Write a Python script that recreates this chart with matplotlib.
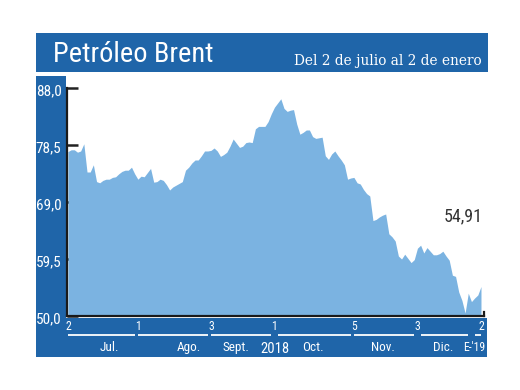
import matplotlib
matplotlib.use("Agg")
import matplotlib.pyplot as plt
import matplotlib.transforms as mtransforms
from matplotlib.patches import Rectangle
from matplotlib import font_manager as fm
import pandas as pd
import numpy as np

# ---------------- data ----------------
title = "Petróleo Brent"
subtitle = "Del 2 de julio al 2 de enero"
start_date = "2018-07-02"
end_date = "2019-01-02"
holidays = ["2018-12-25", "2019-01-01"]

prices = [
    77.4, 77.7, 77.7, 77.3, 77.5, 78.7, 74.0, 74.0, 75.2, 72.4,
    72.2, 72.6, 72.8, 72.8, 73.1, 73.2, 73.7, 74.1, 74.3, 74.3,
    74.8, 73.7, 72.8, 73.3, 73.2, 73.9, 74.6, 72.3, 72.4, 72.8,
    72.6, 71.9, 71.0, 71.5, 71.8, 72.1, 72.4, 74.3, 74.8, 75.5,
    76.0, 76.0, 76.7, 77.5, 77.5, 77.6, 78.0, 77.5, 76.6, 76.9,
    77.3, 78.3, 79.5, 78.8, 78.1, 78.3, 78.9, 79.0, 78.9, 81.2,
    81.6, 81.6, 81.6, 82.4, 83.7, 84.8, 85.5, 86.2, 84.6, 84.1,
    84.3, 84.4, 82.0, 80.3, 80.6, 81.0, 81.0, 79.9, 79.6, 79.7,
    79.8, 76.7, 76.1, 77.0, 77.5, 76.7, 76.0, 75.2, 72.8, 73.0,
    73.1, 72.2, 72.0, 71.1, 70.4, 70.0, 65.9, 66.1, 66.5, 66.8,
    67.0, 63.7, 63.2, 62.5, 60.0, 59.5, 60.3, 59.6, 58.9, 59.4,
    61.3, 61.8, 60.5, 61.4, 60.8, 60.2, 60.2, 60.4, 60.8, 60.0,
    59.3, 56.8, 56.6, 54.0, 52.6, 50.5, 53.8, 52.4, 53.0, 53.5,
    54.91,
]
last_label = "54,91"

y_ticks = [50.0, 59.5, 69.0, 78.5, 88.0]
y_tick_labels = ["50,0", "59,5", "69,0", "78,5", "88,0"]

x_tick_dates = ["2018-07-02", "2018-08-01", "2018-09-03", "2018-10-01",
                "2018-11-05", "2018-12-03", "2019-01-02"]
x_tick_labels = ["2", "1", "3", "1", "5", "3", "2"]

month_labels = ["Jul.", "Ago.", "Sept.", "2018", "Oct.", "Nov.", "Dic.", "E-'19"]
month_label_dates = ["2018-07-19", "2018-08-23", "2018-09-13", "2018-10-01",
                     "2018-10-17", "2018-11-16", "2018-12-13", "2018-12-28"]

seg_start = ["2018-07-02", "2018-08-01", "2018-09-03", "2018-10-02",
             "2018-11-05", "2018-12-04", "2018-12-28"]
seg_end = ["2018-07-31", "2018-08-31", "2018-09-28", "2018-11-02",
           "2018-11-30", "2018-12-26", "2019-01-02"]

# ---------------- style ----------------
DARK = "#1f65a9"
FILL = "#7bb3e1"


def pick_font(names, condensed=True, weight_pref=(400, 500)):
    narrow = {"condensed", "semi-condensed", "extra-condensed", "ultra-condensed"}
    entries = fm.fontManager.ttflist
    if condensed:
        for n in names:
            for e in entries:
                if (e.name == n and e.style == "normal"
                        and (e.stretch in narrow or "Narrow" in e.name
                             or "Condensed" in e.name)
                        and (e.weight in weight_pref or e.weight in ("normal", "medium"))):
                    return fm.FontProperties(fname=e.fname)
    for n in names:
        for e in entries:
            if e.name == n and e.style == "normal" and e.stretch == "normal" \
                    and (e.weight in (400, "normal", "regular")):
                return fm.FontProperties(fname=e.fname)
    return fm.FontProperties(family="DejaVu Sans")


SANS_NAMES = ["Liberation Sans Narrow", "Roboto Condensed", "Open Sans Condensed",
              "Noto Sans", "Open Sans", "DejaVu Sans", "Roboto", "Lato", "Inter"]
SERIF_NAMES = ["Noto Serif", "DejaVu Serif", "Liberation Serif"]
sans_fp = pick_font(SANS_NAMES)
serif_fp = pick_font(SERIF_NAMES)


def fp(base, size):
    p = base.copy()
    p.set_size(size)
    return p


dates = pd.bdate_range(start_date, end_date, freq="C", holidays=holidays)
idx = {d.strftime("%Y-%m-%d"): i for i, d in enumerate(dates)}
x = np.arange(len(prices))

W, H = 520, 390
fig = plt.figure(figsize=(W / 100, H / 100), dpi=100)
fig.patch.set_facecolor("white")


def px_rect(x0, y0, x1, y1):
    return Rectangle((x0 / W, 1 - y1 / H), (x1 - x0) / W, (y1 - y0) / H,
                     transform=fig.transFigure, facecolor=DARK, edgecolor="none",
                     zorder=-1)


fig.patches.append(px_rect(36, 33, 488, 72))
fig.patches.append(px_rect(36, 76, 66, 357))
fig.patches.append(px_rect(36, 318, 487, 357))

t_title = fig.text(53 / W, 1 - 62 / H, title, color="white",
                   fontproperties=fp(sans_fp, 23), ha="left", va="baseline")
t_sub = fig.text(482 / W, 1 - 65.5 / H, subtitle, color="white",
                 fontproperties=fp(serif_fp, 14), ha="right", va="baseline")

ax = fig.add_axes([67 / W, 1 - 316 / H, (484 - 67) / W, 228 / H])
ax.set_facecolor("none")
ax.fill_between(x, prices, y_ticks[0], color=FILL, lw=0, zorder=1)
ax.set_ylim(y_ticks[0], y_ticks[-1])
ax.set_xlim(-0.3, len(prices) - 1 + 0.95)
ax.set_axisbelow(True)

ax.spines["top"].set_visible(False)
for s in ["left", "bottom", "right"]:
    ax.spines[s].set_linewidth(1.6)
    ax.spines[s].set_color("#1a1a1a")
ax.spines["right"].set_bounds(y_ticks[0], y_ticks[0] + 0.6)
ax.set_yticks(y_ticks)
ax.set_yticklabels([])
ax.tick_params(axis="y", direction="in", length=8, width=1.8, color="#222222",
               labelleft=False)
ax.set_xticks([])

ylab_tr = mtransforms.offset_copy(ax.get_yaxis_transform(), fig=fig,
                                  x=-4, y=-2.2, units="points")
for v, lab in zip(y_ticks, y_tick_labels):
    ax.text(0, v, lab, transform=ylab_tr, ha="right", va="center",
            color="white", fontproperties=fp(sans_fp, 11), clip_on=False)

xt = ax.get_xaxis_transform()
for d, lab in zip(x_tick_dates, x_tick_labels):
    ax.text(idx[d], -0.048, lab, transform=xt, ha="center", va="center",
            color="white", fontproperties=fp(sans_fp, 8.5), clip_on=False)
for a, b in zip(seg_start, seg_end):
    ax.plot([idx[a], idx[b]], [-0.083, -0.083], transform=xt, color="white",
            lw=1.3, clip_on=False, solid_capstyle="butt")
for d, lab in zip(month_label_dates, month_labels):
    size = 10.5 if lab == "2018" else (8.5 if lab.startswith("E") else 9.5)
    ax.text(idx[d], -0.145 if lab == "2018" else -0.14, lab, transform=xt,
            ha="center", va="center", color="white",
            fontproperties=fp(sans_fp, size), clip_on=False)

ax.annotate(last_label, xy=(x[-1], prices[-1]), xytext=(1, 47),
            textcoords="offset points", ha="right", va="baseline",
            color="#333333", fontproperties=fp(sans_fp, 13))

# fit header texts to the reference widths
renderer = fig.canvas.get_renderer()
for t, target in [(t_title, 161), (t_sub, 189)]:
    w = t.get_window_extent(renderer).width
    t.set_fontsize(t.get_fontsize() * target / w)

fig.savefig("out.png", dpi=100, facecolor="white")
